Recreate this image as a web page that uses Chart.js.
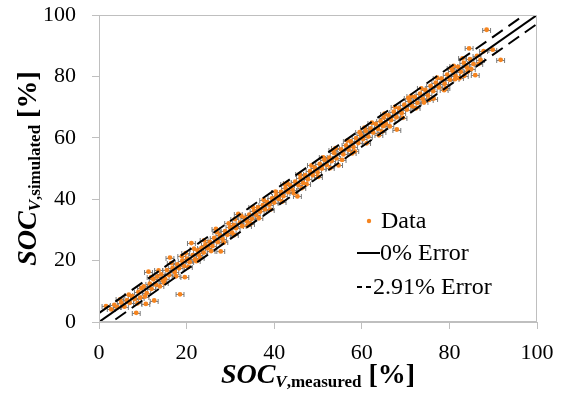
<!DOCTYPE html>
<html>
<head>
<meta charset="utf-8">
<script src="https://cdn.jsdelivr.net/npm/chart.js@4.4.0/dist/chart.umd.min.js"></script>
<style>
  html, body { margin: 0; padding: 0; background: #fff; }
  #wrap { width: 564px; height: 403px; }
</style>
</head>
<body>
<div id="wrap"><canvas id="socChart"></canvas></div>
<script>
// SOC values [%]
const measured = [
  1.6, 3.5, 4.2, 5.1, 5.8, 6.4, 7.0, 7.6, 8.5, 8.1, 9.0, 9.4, 10.2, 10.7, 10.9, 11.3, 11.6, 12.0, 12.6, 12.4,
  13.0, 13.3, 13.9, 14.2, 14.6, 15.1, 15.5, 16.2, 16.0, 16.8, 17.3, 17.9, 18.5, 18.3, 19.0, 19.6, 19.4, 20.1,
  20.7, 21.1, 21.4, 21.9, 22.5, 22.8, 23.4, 23.9, 24.3, 24.8, 25.3, 25.9, 26.3, 26.7, 27.1, 27.8, 27.6, 28.2,
  28.8, 29.3, 29.9, 30.4, 30.8, 31.3, 31.8, 32.2, 32.7, 33.3, 33.8, 34.3, 34.9, 35.4, 35.9, 36.3, 36.8, 37.4,
  37.9, 38.4, 38.9, 39.5, 40.0, 40.5, 41.0, 41.6, 42.1, 42.6, 43.2, 43.7, 44.2, 44.8, 45.3, 45.5, 46.0, 46.6,
  47.1, 47.7, 48.2, 48.8, 49.3, 49.9, 50.4, 50.9, 51.5, 52.0, 52.6, 53.1, 53.7, 54.2, 54.7, 55.3, 55.8, 56.4,
  57.0, 57.5, 58.1, 58.7, 59.2, 59.8, 60.3, 60.9, 61.5, 62.0, 62.6, 63.2, 63.7, 64.3, 65.0, 64.9, 65.5, 66.1,
  66.7, 67.3, 68.0, 67.9, 68.5, 69.1, 69.7, 70.3, 70.9, 71.5, 72.1, 72.7, 73.3, 73.9, 74.5, 75.1, 75.7, 76.4,
  76.3, 76.9, 77.6, 78.2, 78.8, 78.9, 79.5, 80.1, 80.7, 81.3, 81.4, 82.0, 82.6, 83.4, 83.3, 84.0, 84.5, 85.0,
  84.7, 85.9, 85.5, 86.3, 87.1, 88.5, 89.9, 91.7,
  6.8, 9.7, 10.5, 11.9, 13.6, 14.9, 16.5, 17.6, 18.9, 20.4, 21.7, 23.1, 24.0, 25.6, 26.9, 28.5, 29.6, 30.9,
  32.5, 33.9, 35.1, 36.5, 37.6, 39.1, 40.3, 41.8, 43.0, 44.5, 45.8, 47.4, 48.5, 50.1, 51.2, 52.8, 54.0, 55.5,
  56.7, 58.4, 59.5, 61.1, 62.3, 63.9, 65.2, 66.4, 67.6, 69.4, 70.6, 72.4, 73.6, 75.4, 77.2, 79.2, 80.4, 82.3,
  83.0, 86.7, 87.8, 2.8, 4.8, 8.8, 19.8, 22.2, 31.0, 34.6, 42.4, 46.3, 53.4, 57.8, 60.6, 64.6, 71.2, 74.2,
  81.0, 84.2
];
const simulated = [
  5.2, 5.6, 4.8, 6.3, 5.0, 7.1, 6.2, 8.4, 3.0, 7.5, 9.8, 7.9, 11.6, 5.9, 9.4, 16.4, 12.5, 10.8, 7.0, 13.9,
  12.2, 14.8, 11.6, 15.5, 13.4, 14.1, 16.9, 21.0, 15.3, 17.6, 16.2, 18.8, 9.0, 17.5, 19.9, 14.6, 18.3, 20.6,
  19.5, 25.7, 21.8, 20.4, 23.3, 21.9, 24.1, 22.6, 25.2, 24.0, 26.1, 24.7, 27.4, 30.3, 26.0, 23.0, 28.3, 27.1,
  29.6, 28.4, 30.8, 29.1, 31.6, 30.5, 35.2, 32.4, 31.2, 33.9, 32.8, 35.0, 33.6, 36.2, 34.9, 37.3, 36.0, 38.1,
  36.7, 39.0, 38.2, 40.3, 38.9, 41.2, 40.1, 42.4, 41.0, 43.6, 42.3, 44.5, 43.1, 45.7, 40.9, 44.6, 46.9, 45.3,
  47.8, 46.5, 49.1, 47.8, 50.2, 48.7, 51.5, 50.0, 52.8, 51.1, 53.5, 52.4, 55.0, 53.3, 51.0, 56.2, 54.6, 57.5,
  56.1, 58.8, 57.0, 59.9, 58.3, 60.9, 59.6, 62.2, 60.4, 63.1, 61.7, 64.5, 62.9, 65.4, 66.6, 63.8, 64.6, 67.3,
  65.8, 68.5, 62.7, 66.7, 69.6, 68.0, 70.8, 69.2, 72.0, 70.3, 73.3, 71.4, 74.4, 72.7, 75.6, 73.8, 76.9, 72.8,
  75.2, 78.0, 76.4, 79.3, 75.5, 77.6, 80.6, 78.9, 81.8, 79.1, 80.2, 83.1, 81.5, 80.2, 84.4, 82.9, 89.1, 82.4,
  85.6, 80.4, 84.0, 86.7, 85.4, 95.2, 88.7, 85.4,
  8.9, 11.0, 8.3, 14.6, 16.8, 12.7, 19.2, 14.9, 21.4, 17.9, 23.9, 20.8, 26.6, 23.1, 29.3, 25.9, 32.1, 28.3,
  34.6, 31.4, 37.4, 33.8, 39.8, 36.6, 42.5, 39.2, 45.3, 41.9, 48.2, 44.9, 51.0, 47.3, 53.6, 50.1, 56.6, 52.8,
  59.1, 55.6, 61.8, 58.2, 64.9, 60.8, 67.9, 63.7, 70.1, 66.5, 73.0, 69.6, 76.1, 72.4, 79.6, 76.2, 82.7, 79.4,
  85.9, 84.1, 88.2, 4.1, 7.4, 6.1, 22.4, 19.8, 33.5, 32.0, 44.9, 43.6, 55.9, 54.9, 63.3, 62.0, 73.6, 71.5,
  83.4, 81.6
];
const measuredErr = 0.9;      // horizontal error bar half width
const errorBand = 2.91;       // +/- error lines
const refLine = [0, 100];
const legendLabels = ['Data', '0% Error', '2.91% Error'];

const orange = '#f5841f';
const axisGray = '#bfbfbf';
const serif = '"Liberation Serif", "Times New Roman", serif';

const points = measured.map((m, i) => ({ x: m, y: simulated[i] }));

const errorBars = {
  id: 'errorBars',
  beforeDatasetsDraw(chart) {
    const { ctx, chartArea, scales: { x, y } } = chart;
    ctx.save();
    ctx.beginPath();
    ctx.rect(chartArea.left, chartArea.top, chartArea.right - chartArea.left, chartArea.bottom - chartArea.top);
    ctx.clip();
    ctx.strokeStyle = '#7a7a7a';
    ctx.lineWidth = 1;
    points.forEach(p => {
      const x0 = x.getPixelForValue(p.x - measuredErr);
      const x1 = x.getPixelForValue(p.x + measuredErr);
      const py = Math.round(y.getPixelForValue(p.y)) + 0.5;
      ctx.beginPath();
      ctx.moveTo(x0, py); ctx.lineTo(x1, py);
      ctx.moveTo(x0, py - 2.5); ctx.lineTo(x0, py + 2.5);
      ctx.moveTo(x1, py - 2.5); ctx.lineTo(x1, py + 2.5);
      ctx.stroke();
    });
    ctx.restore();
  }
};

function drawMixed(ctx, parts, cx, cy) {
  let total = 0;
  parts.forEach(p => { ctx.font = p.font; p.w = ctx.measureText(p.t).width; total += p.w; });
  let xx = cx - total / 2;
  ctx.textBaseline = 'alphabetic';
  ctx.textAlign = 'left';
  parts.forEach(p => { ctx.font = p.font; ctx.fillText(p.t, xx, cy + (p.dy || 0)); xx += p.w; });
}

const decorations = {
  id: 'decorations',
  afterDraw(chart) {
    const { ctx, chartArea: a } = chart;
    ctx.save();
    // frame top/right
    ctx.strokeStyle = axisGray;
    ctx.lineWidth = 1;
    ctx.strokeRect(Math.round(a.left) + 0.5, Math.round(a.top) + 0.5,
      Math.round(a.right - a.left) - 1, Math.round(a.bottom - a.top) - 1);

    // legend
    ctx.fillStyle = '#000';
    ctx.font = '24px ' + serif;
    ctx.textBaseline = 'middle';
    ctx.textAlign = 'left';
    ctx.fillText(legendLabels[0], 381, 222);
    ctx.fillText(legendLabels[1], 380, 254);
    ctx.fillText(legendLabels[2], 373, 288);
    ctx.fillStyle = orange;
    ctx.beginPath(); ctx.arc(369, 221, 2.2, 0, Math.PI * 2); ctx.fill();
    ctx.strokeStyle = '#000';
    ctx.lineWidth = 2;
    ctx.beginPath(); ctx.moveTo(357, 253); ctx.lineTo(380, 253); ctx.stroke();
    ctx.setLineDash([5, 4]);
    ctx.beginPath(); ctx.moveTo(357, 287); ctx.lineTo(372, 287); ctx.stroke();
    ctx.setLineDash([]);

    // axis titles
    ctx.fillStyle = '#000';
    const big = 'bold italic 28px ' + serif;
    const subI = 'bold italic 17px ' + serif;
    const sub = 'bold 17px ' + serif;
    const bigB = 'bold 28px ' + serif;
    drawMixed(ctx, [
      { t: 'SOC', font: big },
      { t: 'V', font: subI, dy: 4 },
      { t: ',measured', font: sub, dy: 4 },
      { t: ' [%]', font: bigB }
    ], (a.left + a.right) / 2, 383);

    ctx.translate(36, (a.top + a.bottom) / 2);
    ctx.rotate(-Math.PI / 2);
    drawMixed(ctx, [
      { t: 'SOC', font: big },
      { t: 'V', font: subI, dy: 4 },
      { t: ',simulated', font: sub, dy: 4 },
      { t: ' [%]', font: bigB }
    ], 0, 0);
    ctx.restore();
  }
};

new Chart(document.getElementById('socChart'), {
  type: 'scatter',
  data: {
    datasets: [
      {
        label: legendLabels[1],
        type: 'line',
        data: refLine.map(v => ({ x: v, y: v })),
        borderColor: '#000',
        borderWidth: 2,
        pointRadius: 0,
        clip: 0,
        order: 0
      },
      {
        label: legendLabels[2],
        type: 'line',
        data: refLine.map(v => ({ x: v, y: v + errorBand })),
        borderColor: '#000',
        borderWidth: 2,
        borderDash: [13, 7],
        pointRadius: 0,
        clip: 0,
        order: 0
      },
      {
        label: legendLabels[2],
        type: 'line',
        data: refLine.map(v => ({ x: v, y: v - errorBand })),
        borderColor: '#000',
        borderWidth: 2,
        borderDash: [13, 7],
        pointRadius: 0,
        clip: 0,
        order: 0
      },
      {
        label: legendLabels[0],
        data: points,
        backgroundColor: orange,
        borderWidth: 0,
        pointRadius: 2.4,
        order: 1
      }
    ]
  },
  options: {
    responsive: true,
    maintainAspectRatio: false,
    animation: false,
    events: [],
    layout: { padding: { top: 15, right: 27, left: 0, bottom: 0 } },
    plugins: {
      legend: { display: false },
      tooltip: { enabled: false }
    },
    scales: {
      x: {
        type: 'linear',
        min: 0,
        max: 100,
        afterFit: s => { s.height = 81; s.paddingLeft = 0; s.paddingRight = 0; },
        grid: { drawOnChartArea: false, drawTicks: true, tickLength: 7, color: axisGray },
        border: { display: true, color: axisGray },
        ticks: { stepSize: 20, padding: 11, color: '#000', font: { family: serif, size: 22 } }
      },
      y: {
        type: 'linear',
        min: 0,
        max: 100,
        afterFit: s => { s.width = 99; s.paddingTop = 0; s.paddingBottom = 0; },
        grid: { drawOnChartArea: false, drawTicks: true, tickLength: 7, color: axisGray },
        border: { display: true, color: axisGray },
        ticks: { stepSize: 20, padding: 16, color: '#000', font: { family: serif, size: 22 } }
      }
    }
  },
  plugins: [errorBars, decorations]
});
</script>
</body>
</html>
